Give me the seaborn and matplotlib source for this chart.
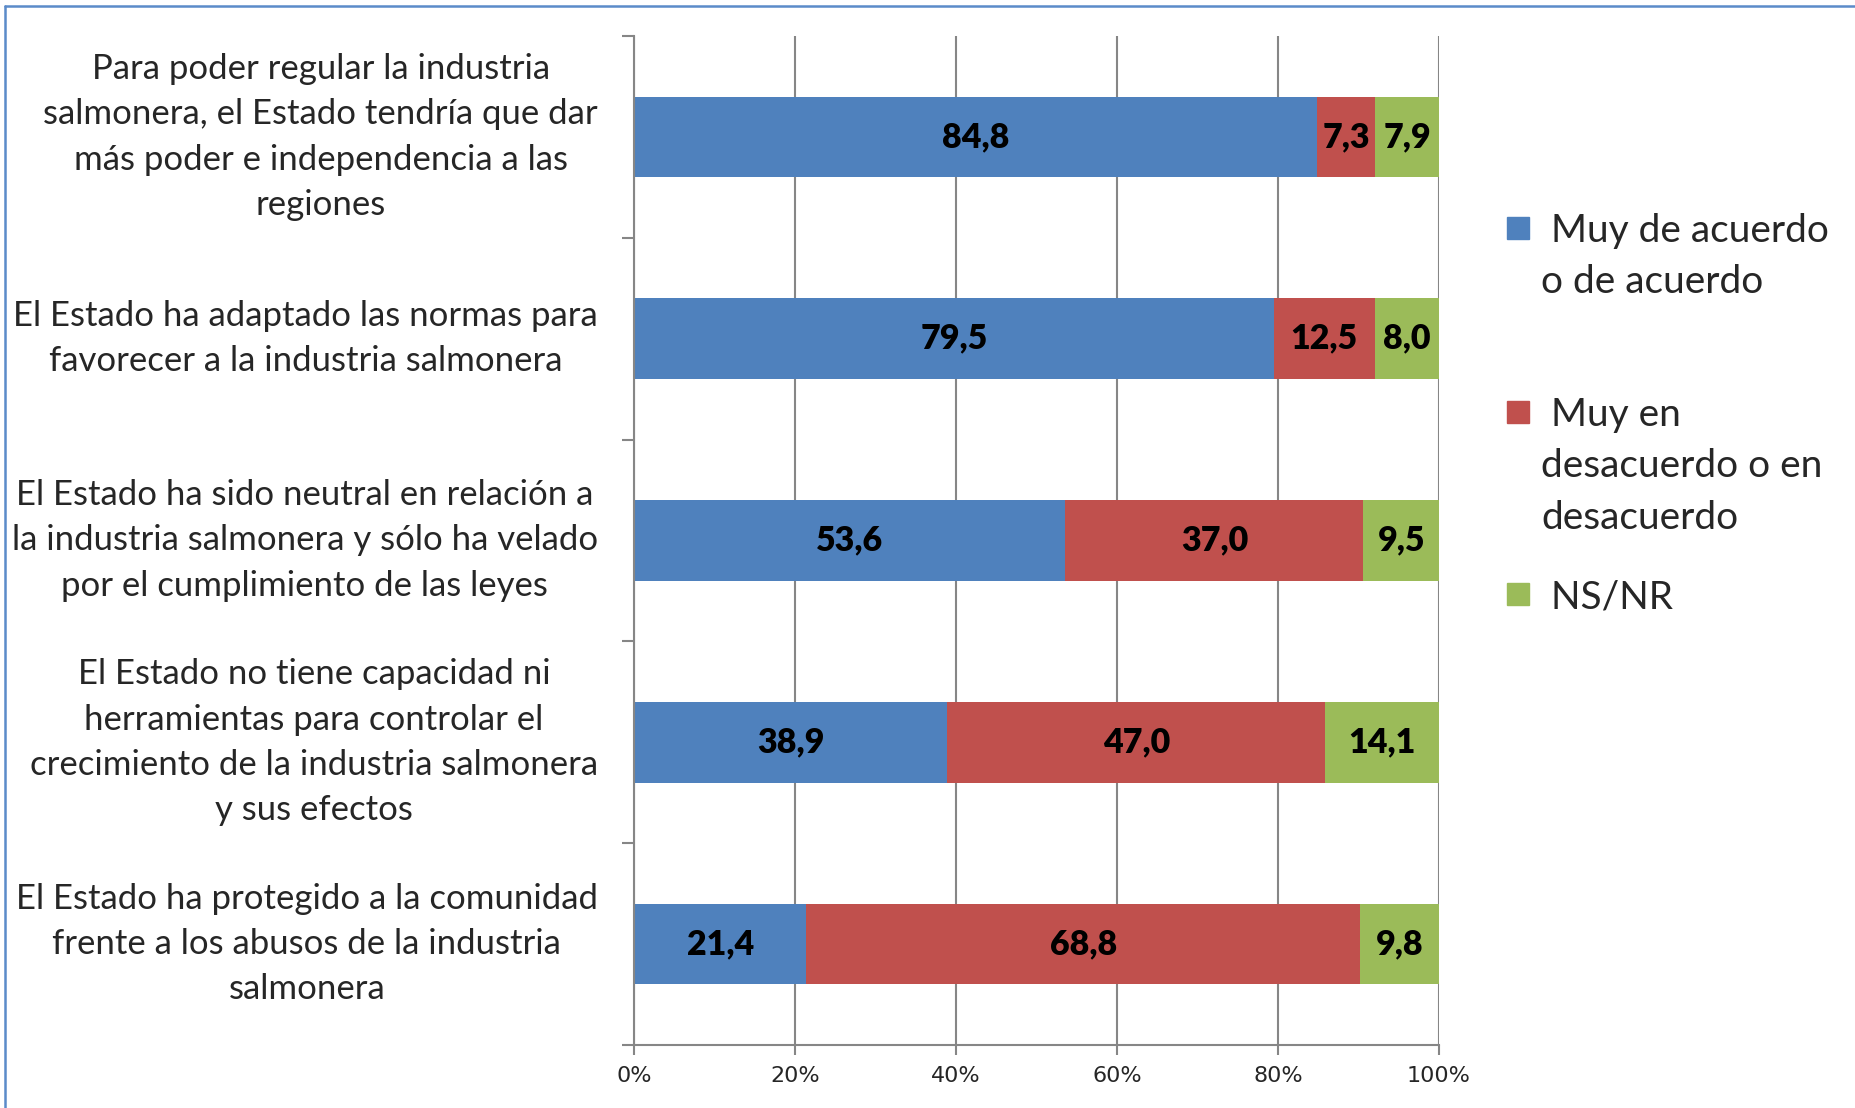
import matplotlib
matplotlib.use("Agg")
import matplotlib.pyplot as plt
from matplotlib.lines import Line2D
from matplotlib.patches import Rectangle
import pandas as pd
import seaborn as sns

# data
categorias = [
    "Para poder regular la industria\nsalmonera, el Estado tendría que dar\nmás poder e independencia a las\nregiones",
    "El Estado ha adaptado las normas para\nfavorecer a la industria salmonera",
    "El Estado ha sido neutral en relación a\nla industria salmonera y sólo ha velado\npor el cumplimiento de las leyes",
    "El Estado no tiene capacidad ni\nherramientas para controlar el\ncrecimiento de la industria salmonera\ny sus efectos",
    "El Estado ha protegido a la comunidad\nfrente a los abusos de la industria\nsalmonera",
]
acuerdo = [84.8, 79.5, 53.6, 38.9, 21.4]
desacuerdo = [7.3, 12.5, 37.0, 47.0, 68.8]
nsnr = [7.9, 8.0, 9.5, 14.1, 9.8]

series = ["Muy de acuerdo o de acuerdo", "Muy en desacuerdo o en desacuerdo", "NS/NR"]
leyenda = [" Muy de acuerdo\no de acuerdo", " Muy en\ndesacuerdo o en\ndesacuerdo", " NS/NR"]
colores = ["#4F81BD", "#C0504D", "#9BBB59"]
xticks = [0, 20, 40, 60, 80, 100]
xticklabels = ["0%", "20%", "40%", "60%", "80%", "100%"]

df = pd.DataFrame({"cat": categorias, "a": acuerdo, "d": desacuerdo, "n": nsnr})
df["ad"] = df["a"] + df["d"]
df["total"] = df["ad"] + df["n"]

sns.set_style("white")
plt.rcParams["font.family"] = ["Lato", "DejaVu Sans"]

W, H = 1856, 1108
fig = plt.figure(figsize=(W / 100, H / 100), dpi=100)
ax = fig.add_axes([634 / W, 1 - 1045 / H, (1439 - 634) / W, (1045 - 36) / H])

gris = "#868686"

# stacked bars (drawn as cumulative overlays)
kw = dict(width=0.4, linewidth=0, orient="y", saturation=1, ax=ax)
sns.barplot(data=df, x="total", y="cat", color=colores[2], **kw)
sns.barplot(data=df, x="ad", y="cat", color=colores[1], **kw)
sns.barplot(data=df, x="a", y="cat", color=colores[0], **kw)

# value labels
for i, row in df.iterrows():
    starts = [0, row["a"], row["ad"]]
    vals = [row["a"], row["d"], row["n"]]
    for s, v in zip(starts, vals):
        ax.text(s + v / 2, i, f"{v:.1f}".replace(".", ","), ha="center", va="center",
                fontsize=24.5, fontweight="heavy", color="black")

ax.set_xlim(0, 100)
ax.set_ylim(4.5, -0.5)
ax.set_xlabel("")
ax.set_ylabel("")
ax.set_xticks(xticks)
ax.set_xticklabels(xticklabels, family=["Liberation Sans Narrow", "DejaVu Sans"], fontsize=16)
ax.tick_params(axis="x", length=7, width=1.5, color=gris, pad=8, bottom=True)

ax.set_yticks(range(len(categorias)))
ax.set_yticklabels(categorias, fontsize=25)
for lbl in ax.get_yticklabels():
    lbl.set_multialignment("center")
    lbl.set_linespacing(1.51)
    lbl.set_verticalalignment("center")
ax.tick_params(axis="y", which="major", length=0, pad=26)
ax.set_yticks([i - 0.5 for i in range(len(categorias) + 1)], minor=True)
ax.tick_params(axis="y", which="minor", length=8.5, width=1.5, color=gris, left=True)

ax.xaxis.grid(True, color=gris, linewidth=1.5)
ax.yaxis.grid(False)
ax.set_axisbelow(True)
for side in ["top", "right"]:
    ax.spines[side].set_visible(False)
for side in ["left", "bottom"]:
    ax.spines[side].set_color(gris)
    ax.spines[side].set_linewidth(1.5)

# legend
leg_y = [228, 412, 594]
for lab, col, py in zip(leyenda, colores, leg_y):
    fig.patches.append(Rectangle((1507 / W, 1 - (py + 11) / H), 22.5 / W, 22.5 / H,
                                 transform=fig.transFigure, color=col))
    fig.text(1541 / W, 1 - (py - 15) / H, lab, ha="left", va="top",
             fontsize=28, linespacing=1.53)

# chart frame
fig.add_artist(Line2D([5 / W, 5 / W], [0, 1 - 6 / H], transform=fig.transFigure, color="#5B8BC9", lw=1.8))
fig.add_artist(Line2D([5 / W, 1], [1 - 6 / H, 1 - 6 / H], transform=fig.transFigure, color="#5B8BC9", lw=1.8))

fig.savefig("out.png", dpi=100, facecolor="white")
